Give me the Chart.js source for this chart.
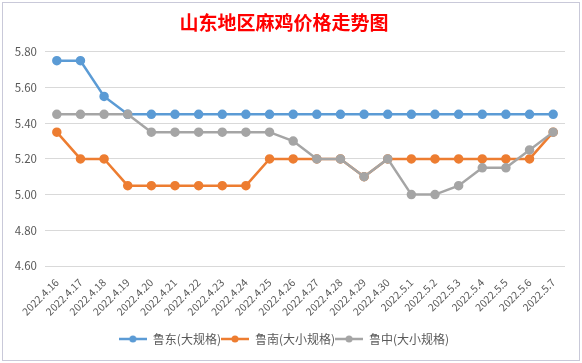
<!DOCTYPE html>
<html>
<head>
<meta charset="utf-8">
<script src="https://cdn.jsdelivr.net/npm/chart.js@4"></script>
<style>
  body { margin: 0; background: #ffffff; }
  #box { position: absolute; left: 2px; top: 2px; width: 576px; height: 357px; border: 1px solid #c9c9d9; background: #fff; }
</style>
</head>
<body>
<div id="box"><canvas id="priceChart"></canvas></div>
<script>
// Dates along the x axis
const dates = ['2022.4.16', '2022.4.17', '2022.4.18', '2022.4.19', '2022.4.20', '2022.4.21', '2022.4.22',
    '2022.4.23', '2022.4.24', '2022.4.25', '2022.4.26', '2022.4.27', '2022.4.28', '2022.4.29', '2022.4.30',
    '2022.5.1', '2022.5.2', '2022.5.3', '2022.5.4', '2022.5.5', '2022.5.6', '2022.5.7'];

// Prices per region (yuan / jin)
const ludong = [5.75, 5.75, 5.55, 5.45, 5.45, 5.45, 5.45, 5.45, 5.45, 5.45, 5.45, 5.45, 5.45, 5.45, 5.45,
    5.45, 5.45, 5.45, 5.45, 5.45, 5.45, 5.45];
const lunan = [5.35, 5.20, 5.20, 5.05, 5.05, 5.05, 5.05, 5.05, 5.05, 5.20, 5.20, 5.20, 5.20, 5.10, 5.20,
    5.20, 5.20, 5.20, 5.20, 5.20, 5.20, 5.35];
const luzhong = [5.45, 5.45, 5.45, 5.45, 5.35, 5.35, 5.35, 5.35, 5.35, 5.35, 5.30, 5.20, 5.20, 5.10, 5.20,
    5.00, 5.00, 5.05, 5.15, 5.15, 5.25, 5.35];

const seriesNames = ['鲁东(大规格)', '鲁南(大小规格)', '鲁中(大小规格)'];
const colors = ['#5B9BD5', '#ED7D31', '#A5A5A5'];
const yTicks = [4.6, 4.8, 5.0, 5.2, 5.4, 5.6, 5.8];

const font = '"Noto Sans CJK SC", "Noto Sans", sans-serif';

// little "line with a dot" marker for the legend, like Excel
function legendMarker(color) {
    const c = document.createElement('canvas');
    c.width = 28; c.height = 10;
    const g = c.getContext('2d');
    g.strokeStyle = color; g.lineWidth = 2.5;
    g.beginPath(); g.moveTo(0, 5); g.lineTo(28, 5); g.stroke();
    g.fillStyle = color;
    g.beginPath(); g.arc(14, 5, 3.5, 0, Math.PI * 2); g.fill();
    return c;
}

function makeSet(i, data, order) {
    return {
        label: seriesNames[i],
        data: data,
        borderColor: colors[i],
        backgroundColor: colors[i],
        borderWidth: 2.5,
        pointRadius: 3.5,
        pointHoverRadius: 4,
        tension: 0,
        order: order
    };
}

const ctx = document.getElementById('priceChart').getContext('2d');
new Chart(ctx, {
    type: 'line',
    data: {
        labels: dates,
        datasets: [makeSet(0, ludong, 2), makeSet(1, lunan, 3), makeSet(2, luzhong, 1)]
    },
    options: {
        responsive: true,
        maintainAspectRatio: false,
        animation: false,
        layout: { padding: { left: 0, right: 14, top: 0, bottom: 5 } },
        plugins: {
            title: {
                display: true,
                text: '山东地区麻鸡价格走势图',
                color: '#FF0000',
                font: { family: font, size: 19, weight: 'bold' },
                padding: { top: 8, bottom: 18 }
            },
            legend: {
                position: 'bottom',
                labels: {
                    usePointStyle: true,
                    pointStyleWidth: 28,
                    padding: 0,
                    color: '#595959',
                    font: { family: font, size: 12 },
                    sort: (a, b) => a.datasetIndex - b.datasetIndex,
                    generateLabels: function(chart) {
                        const items = Chart.defaults.plugins.legend.labels.generateLabels(chart);
                        items.forEach(it => { it.pointStyle = legendMarker(colors[it.datasetIndex]); });
                        return items;
                    }
                }
            },
            tooltip: { enabled: false }
        },
        scales: {
            x: {
                offset: true,
                afterFit: function(scale) { scale.height = 67; },
                grid: { display: false },
                border: { display: false },
                ticks: {
                    color: '#595959',
                    padding: 2,
                    font: { family: font, size: 10.5 },
                    minRotation: 45,
                    maxRotation: 45,
                    autoSkip: false
                }
            },
            y: {
                min: 4.6,
                max: 5.8,
                afterFit: function(scale) { scale.width = 42; },
                afterBuildTicks: function(scale) { scale.ticks = yTicks.map(v => ({ value: v })); },
                grid: { color: '#d9d9d9', drawTicks: false },
                border: { display: false },
                ticks: {
                    color: '#595959',
                    padding: 8,
                    font: { family: font, size: 11.5 },
                    callback: v => Number(v).toFixed(2)
                }
            }
        }
    }
});
</script>
</body>
</html>
